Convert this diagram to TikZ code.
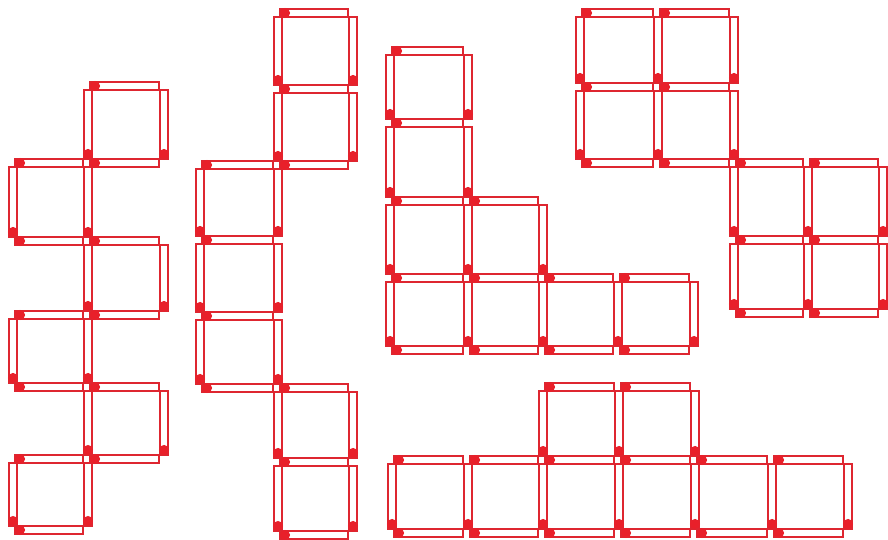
\documentclass[tikz,border=0pt]{standalone}
\usepackage{tikz}
\definecolor{cStick}{HTML}{DE2630}
\definecolor{cHead}{HTML}{E8202A}

% horizontal match: #1 left corner, #2 right corner, #3 row (head on the left)
\newcommand{\hmatch}[3]{%
  \draw[stick] (#1+2,#3-4) rectangle (#2-5,#3+4);
  \fill[head] (#1+7,#3) circle (3.8pt);}
% vertical match: #1 column, #2 top corner, #3 bottom corner (head at the bottom)
\newcommand{\vmatch}[3]{%
  \draw[stick] (#1-4,#2+4) rectangle (#1+4,#3-4);
  \fill[head] (#1,#3-9) circle (3.8pt);}

\begin{document}
\begin{tikzpicture}[x=0.75pt,y=-0.75pt,
  stick/.style={draw=cStick,fill=white,line width=1.4pt},
  head/.style={fill=cHead}]
\useasboundingbox (0,0) rectangle (888,539);

%============================ FIGURE 1: zigzag of six squares ============================
\foreach \ya/\yb in {86/163,163/241,241/315,315/387,387/459,459/530}
  \vmatch{88}{\ya}{\yb};
\foreach \ya/\yb in {163/241,315/387,459/530}
  \vmatch{13}{\ya}{\yb};
\foreach \ya/\yb in {86/163,241/315,387/459}
  \vmatch{164}{\ya}{\yb};
\foreach \y in {86,163,241,315,387,459}
  \hmatch{88}{164}{\y};
\foreach \y in {163,241,315,387,459,530}
  \hmatch{13}{88}{\y};

%============================ FIGURE 2: two, three, two ============================
\foreach \ya/\yb in {13/89,89/165,165/240,240/316,316/388,388/462,462/535}
  \vmatch{278}{\ya}{\yb};
\foreach \ya/\yb in {165/240,240/316,316/388}
  \vmatch{200}{\ya}{\yb};
\foreach \ya/\yb in {13/89,89/165,388/462,462/535}
  \vmatch{353}{\ya}{\yb};
\foreach \y in {13,89,165,388,462,535}
  \hmatch{278}{353}{\y};
\foreach \y in {165,240,316,388}
  \hmatch{200}{278}{\y};

%============================ FIGURE 3: the L ============================
\foreach \x in {390,468}
  \foreach \ya/\yb in {51/123,123/201,201/278,278/350}
    \vmatch{\x}{\ya}{\yb};
\foreach \ya/\yb in {201/278,278/350}
  \vmatch{543}{\ya}{\yb};
\foreach \x in {618,694}
  \vmatch{\x}{278}{350};
\foreach \y in {51,123,201,278,350}
  \hmatch{390}{468}{\y};
\foreach \y in {201,278,350}
  \hmatch{468}{543}{\y};
\foreach \xa/\xb in {543/618,618/694}
  \foreach \y in {278,350}
    \hmatch{\xa}{\xb}{\y};

%============================ FIGURE 4: two blocks of four ============================
% top left block
\foreach \x in {580,658,734}
  \foreach \ya/\yb in {13/87,87/163}
    \vmatch{\x}{\ya}{\yb};
\foreach \xa/\xb in {580/658,658/734}
  \foreach \y in {13,87,163}
    \hmatch{\xa}{\xb}{\y};
% bottom right block
\foreach \x in {734,808,883}
  \foreach \ya/\yb in {163/240,240/313}
    \vmatch{\x}{\ya}{\yb};
\foreach \xa/\xb in {734/808,808/883}
  \foreach \y in {163,240,313}
    \hmatch{\xa}{\xb}{\y};

%============================ FIGURE 5: row of six, two on top ============================
\foreach \x in {543,619,695}
  \vmatch{\x}{387}{460};
\foreach \x in {392,468,543,619,695,772,848}
  \vmatch{\x}{460}{533};
\foreach \xa/\xb in {543/619,619/695}
  \hmatch{\xa}{\xb}{387};
\foreach \xa/\xb in {392/468,468/543,543/619,619/695,695/772,772/848}
  \foreach \y in {460,533}
    \hmatch{\xa}{\xb}{\y};

\end{tikzpicture}
\end{document}
